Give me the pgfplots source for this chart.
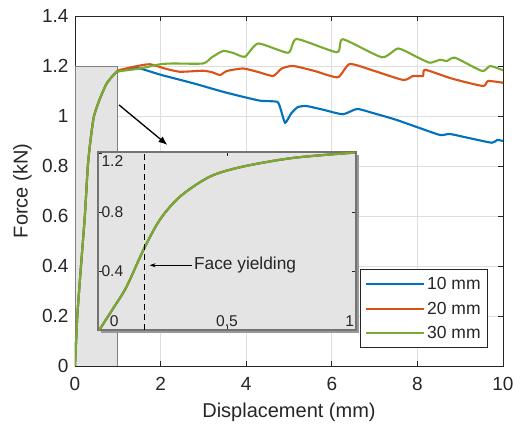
\documentclass[border=0pt]{standalone}
\usepackage{fontspec}
\setmainfont{Liberation Sans}
\usepackage{pgfplots}
\pgfplotsset{compat=1.18}
\usetikzlibrary{arrows.meta}
\definecolor{mblue}{RGB}{0,114,189}
\definecolor{morange}{RGB}{217,83,25}
\definecolor{mgreen}{RGB}{119,172,48}
\definecolor{axgray}{RGB}{38,38,38}
\definecolor{rectgray}{RGB}{228,228,228}
\begin{document}
\begin{tikzpicture}
\useasboundingbox (-75pt,-59pt) rectangle (440pt,366pt);
\begin{axis}[
  at={(0pt,0pt)}, anchor=south west,
  scale only axis, width=428pt, height=350pt,
  xmin=0, xmax=10, ymin=0, ymax=1.4,
  xtick={0,2,4,6,8,10},
  ytick={0,0.2,0.4,0.6,0.8,1,1.2,1.4},
  /pgf/number format/assume math mode=true,
  tick label style={font=\fontsize{19}{22}\selectfont, text=axgray},
  xticklabel style={yshift=-8pt},
  yticklabel style={xshift=-3pt},
  axis line style={axgray, line width=0.8pt},
  tick style={axgray, line width=0.8pt},
  major tick length=5pt,
  grid=major, grid style={line width=0.6pt, black!13},
  xlabel={Displacement (mm)}, ylabel={Force (kN)},
  label style={font=\fontsize{20}{24}\selectfont, text=axgray},
  xlabel style={at={(axis description cs:0.5,-0.131)}, anchor=center},
  ylabel style={at={(axis description cs:-0.1227,0.5)}, anchor=center, rotate=0},
  legend style={at={(0.965,0.051)}, anchor=south east, draw=axgray, line width=0.8pt,
    fill=white, font=\fontsize{17.5}{21}\selectfont, text=axgray,
    inner xsep=5pt, inner ysep=6pt, row sep=6.5pt},
  legend cell align=left,
  legend image code/.code={\draw[#1, line width=2pt] (0pt,0pt) -- (58pt,0pt);},
]
\draw[draw=black!50, fill=rectgray, line width=0.8pt] (axis cs:0,0) rectangle (axis cs:1,1.2);
\addplot[mblue, line width=2.1pt, smooth, tension=0.35] coordinates {
(0,0) (0.054,0.2) (0.14,0.4) (0.23,0.6) (0.3,0.8) (0.36,0.9) (0.44,0.997) (0.57,1.064) (0.74,1.13) (0.93,1.17) (1.0,1.178)
(1.3,1.19) (1.52,1.19) (2,1.165) (2.76,1.131) (3.5,1.095) (4.3,1.062) (4.72,1.057) (4.8,1.03) (4.91,0.973) (5.05,1.01) (5.2,1.035) (5.4,1.04) (5.8,1.025) (6.26,1.007) (6.59,1.028) (7,1.01) (7.5,0.985) (8,0.955) (8.53,0.924) (8.76,0.928) (9.2,0.912) (9.74,0.893) (9.86,0.904) (10,0.9)
};
\addlegendentry{10 mm}
\addplot[morange, line width=2.1pt, smooth, tension=0.35] coordinates {
(0,0) (0.054,0.2) (0.14,0.4) (0.23,0.6) (0.3,0.8) (0.36,0.9) (0.44,0.997) (0.57,1.064) (0.74,1.13) (0.93,1.17) (1.0,1.182)
(1.4,1.198) (1.75,1.207) (2.1,1.19) (2.45,1.177) (2.99,1.181) (3.2,1.175) (3.39,1.164) (3.55,1.18) (3.93,1.19) (4.3,1.175) (4.63,1.16) (4.83,1.19) (5.1,1.2) (5.6,1.18) (6.14,1.155) (6.42,1.208) (7.0,1.18) (7.67,1.144) (7.9,1.16) (8.13,1.16) (8.18,1.185) (8.8,1.15) (9.53,1.12) (9.65,1.14) (10,1.133)
};
\addlegendentry{20 mm}
\addplot[mgreen, line width=2.1pt, smooth, tension=0.35] coordinates {
(0,0) (0.054,0.2) (0.14,0.4) (0.23,0.6) (0.3,0.8) (0.36,0.9) (0.44,0.997) (0.57,1.064) (0.74,1.13) (0.93,1.17) (1.0,1.178)
(1.52,1.19) (1.99,1.207) (2.3,1.21) (2.99,1.21) (3.2,1.235) (3.46,1.26) (3.7,1.252) (3.97,1.237) (4.28,1.29) (4.98,1.253) (5.18,1.308) (6.12,1.255) (6.26,1.307) (7.17,1.235) (7.55,1.27) (8.0,1.235) (8.29,1.213) (8.53,1.225) (8.69,1.22) (8.88,1.233) (9.51,1.18) (9.7,1.2) (10,1.183)
};
\addlegendentry{30 mm}
\draw[-{Latex[length=9pt,width=7pt]}, line width=1.3pt, black] (axis cs:1.03,1.044) -- (axis cs:2.16,0.884);
\end{axis}
\fill[black!40] (26pt,33pt) rectangle (284pt,211pt);
\begin{axis}[
  at={(23pt,36pt)}, anchor=south west,
  scale only axis, width=258pt, height=178pt,
  xmin=0, xmax=1, ymin=0, ymax=1.21,
  xtick={0,0.5,1}, ytick={0.4,0.8,1.2},
  xticklabels={{\makebox[0pt][l]{\hspace{12pt}0}}, {0.5}, {\makebox[0pt][r]{1\hspace{2pt}}}},
  yticklabels={{0.4},{0.8},{\raisebox{-8pt}[11pt][0pt]{1.2}}},
  /pgf/number format/assume math mode=true,
  tick label style={font=\fontsize{15.6}{18}\selectfont, text=axgray},
  xticklabel style={anchor=south},
  yticklabel style={anchor=west},
  axis background/.style={fill=rectgray},
  axis line style={black!55, line width=1.2pt},
  tick style={axgray, line width=0.7pt},
  major tick length=4pt,
]
\addplot[mblue, line width=2.1pt, smooth] coordinates {(0.005,0) (0.06,0.15) (0.111,0.295) (0.176,0.544) (0.24,0.75) (0.318,0.907) (0.434,1.043) (0.56,1.11) (0.757,1.17) (0.996,1.206)};
\addplot[morange, line width=2.1pt, smooth] coordinates {(0.005,0) (0.06,0.15) (0.111,0.295) (0.176,0.544) (0.24,0.75) (0.318,0.907) (0.434,1.043) (0.56,1.11) (0.757,1.17) (0.996,1.206)};
\addplot[mgreen, line width=2.1pt, smooth] coordinates {(0.005,0) (0.06,0.15) (0.111,0.295) (0.176,0.544) (0.24,0.75) (0.318,0.907) (0.434,1.043) (0.56,1.11) (0.757,1.17) (0.996,1.206)};
\draw[black, line width=1.4pt, dash pattern=on 6pt off 4pt] (axis cs:0.18,0) -- (axis cs:0.18,1.21);
\draw[-{Stealth[length=6pt,width=4pt]}, line width=0.7pt, black] (axis cs:0.364,0.44) -- (axis cs:0.20,0.44);
\node[anchor=west, inner sep=2pt, font=\fontsize{17.3}{20}\selectfont, text=axgray] at (axis cs:0.364,0.44) {Face yielding};
\end{axis}
\end{tikzpicture}
\end{document}
